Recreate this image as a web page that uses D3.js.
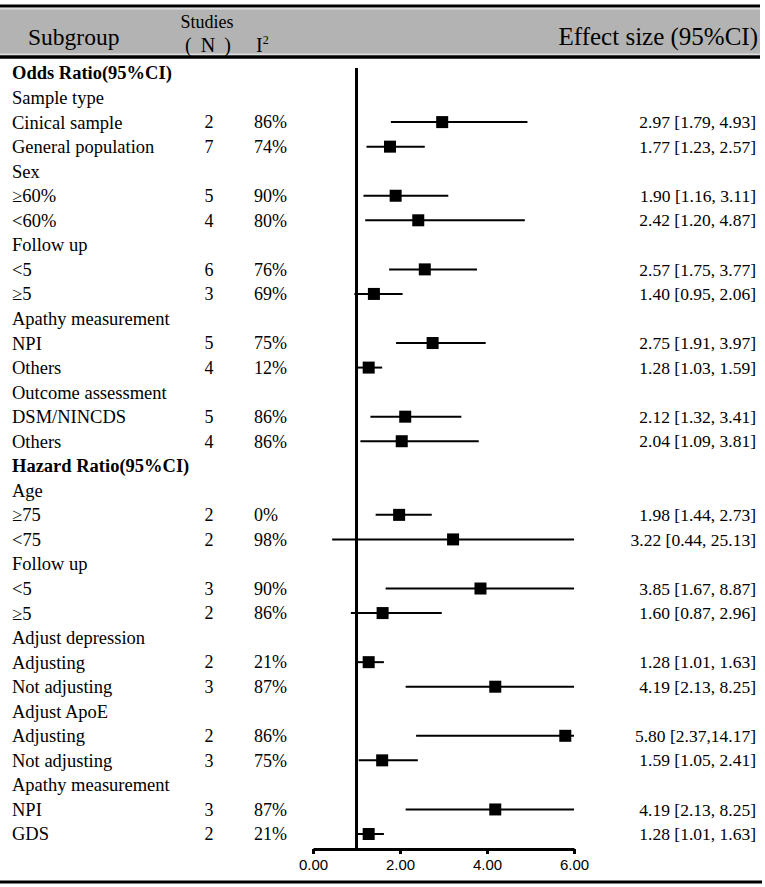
<!DOCTYPE html>
<html>
<head>
<meta charset="utf-8">
<script src="https://cdn.jsdelivr.net/npm/d3@7"></script>
<style>
  body { margin: 0; background: #fff; }
  svg { display: block; }
  text { font-family: "Liberation Serif", "Times New Roman", serif; fill: #000; }
</style>
</head>
<body>
<div id="chart"></div>
<script>
// row labels, top to bottom
const subgroups = [
  "Odds Ratio(95%CI)", "Sample type", "Cinical sample", "General population",
  "Sex", "\u226560%", "<60%", "Follow up", "<5", "\u22655",
  "Apathy measurement", "NPI", "Others", "Outcome assessment", "DSM/NINCDS", "Others",
  "Hazard Ratio(95%CI)", "Age", "\u226575", "<75", "Follow up", "<5", "\u22655",
  "Adjust depression", "Adjusting", "Not adjusting", "Adjust ApoE", "Adjusting", "Not adjusting",
  "Apathy measurement", "NPI", "GDS"
];
const boldRows = [0, 16];
const studies = [null, null, 2, 7, null, 5, 4, null, 6, 3, null, 5, 4, null, 5, 4,
  null, null, 2, 2, null, 3, 2, null, 2, 3, null, 2, 3, null, 3, 2];
const i2 = [null, null, "86%", "74%", null, "90%", "80%", null, "76%", "69%", null, "75%", "12%", null, "86%", "86%",
  null, null, "0%", "98%", null, "90%", "86%", null, "21%", "87%", null, "86%", "75%", null, "87%", "21%"];
const est = [null, null, 2.97, 1.77, null, 1.90, 2.42, null, 2.57, 1.40, null, 2.75, 1.28, null, 2.12, 2.04,
  null, null, 1.98, 3.22, null, 3.85, 1.60, null, 1.28, 4.19, null, 5.80, 1.59, null, 4.19, 1.28];
const lower = [null, null, 1.79, 1.23, null, 1.16, 1.20, null, 1.75, 0.95, null, 1.91, 1.03, null, 1.32, 1.09,
  null, null, 1.44, 0.44, null, 1.67, 0.87, null, 1.01, 2.13, null, 2.37, 1.05, null, 2.13, 1.01];
const upper = [null, null, 4.93, 2.57, null, 3.11, 4.87, null, 3.77, 2.06, null, 3.97, 1.59, null, 3.41, 3.81,
  null, null, 2.73, 25.13, null, 8.87, 2.96, null, 1.63, 8.25, null, 14.17, 2.41, null, 8.25, 1.63];
const effectLabels = [null, null, "2.97 [1.79, 4.93]", "1.77 [1.23, 2.57]", null, "1.90 [1.16, 3.11]", "2.42 [1.20, 4.87]",
  null, "2.57 [1.75, 3.77]", "1.40 [0.95, 2.06]", null, "2.75 [1.91, 3.97]", "1.28 [1.03, 1.59]",
  null, "2.12 [1.32, 3.41]", "2.04 [1.09, 3.81]", null, null, "1.98 [1.44, 2.73]", "3.22 [0.44, 25.13]",
  null, "3.85 [1.67, 8.87]", "1.60 [0.87, 2.96]", null, "1.28 [1.01, 1.63]", "4.19 [2.13, 8.25]",
  null, "5.80 [2.37,14.17]", "1.59 [1.05, 2.41]", null, "4.19 [2.13, 8.25]", "1.28 [1.01, 1.63]"];
const xTicks = [0, 2, 4, 6];

const width = 765, height = 887;
const rows = subgroups.map((label, i) => ({
  i, label, n: studies[i], i2: i2[i], est: est[i], lo: lower[i], hi: upper[i], text: effectLabels[i]
}));
const data = rows.filter(d => d.est != null);

const svg = d3.select("#chart").append("svg")
  .attr("width", width)
  .attr("height", height);

const x = d3.scaleLinear().domain([0, 6]).range([313, 574]);
const y = d3.scaleLinear().domain([0, subgroups.length - 1]).range([73, 834]);
const axisY = 849;

// header band
svg.append("rect").attr("x", 0).attr("y", 8).attr("width", 760).attr("height", 47).attr("fill", "#dcdcdc");
svg.append("rect").attr("x", 0).attr("y", 9.5).attr("width", 760).attr("height", 44).attr("fill", "#b3b3b3");
svg.append("line").attr("x1", 0).attr("x2", 760).attr("y1", 6).attr("y2", 6)
  .attr("stroke", "#000").attr("stroke-width", 3);
svg.append("line").attr("x1", 0).attr("x2", 760).attr("y1", 57).attr("y2", 57)
  .attr("stroke", "#000").attr("stroke-width", 3.5);

svg.append("text").attr("x", 28).attr("y", 45).style("font-size", "23.5px").text("Subgroup");
svg.append("text").attr("x", 207).attr("y", 28).attr("text-anchor", "middle").style("font-size", "18px").text("Studies");
const nHead = svg.append("text").attr("x", 208).attr("y", 52).attr("text-anchor", "middle").style("font-size", "20px");
nHead.append("tspan").text("(");
nHead.append("tspan").attr("dx", 9).text("N");
nHead.append("tspan").attr("dx", 9).text(")");
svg.append("text").attr("x", 256).attr("y", 52).style("font-size", "20px")
  .text("I").append("tspan").attr("dy", -8).style("font-size", "12px").text("2");
svg.append("text").attr("x", 758).attr("y", 45).attr("text-anchor", "end").style("font-size", "25px").text("Effect size (95%CI)");

// left table columns
svg.append("g").selectAll("text")
  .data(rows)
  .join("text")
  .attr("x", 12)
  .attr("y", d => y(d.i))
  .attr("dy", "0.35em")
  .style("font-size", "18.5px")
  .style("font-weight", d => boldRows.includes(d.i) ? "bold" : null)
  .text(d => d.label);

svg.append("g").selectAll("text")
  .data(data)
  .join("text")
  .attr("x", 209)
  .attr("y", d => y(d.i))
  .attr("dy", "0.35em")
  .attr("text-anchor", "middle")
  .style("font-size", "18px")
  .text(d => d.n);

svg.append("g").selectAll("text")
  .data(data)
  .join("text")
  .attr("x", 254)
  .attr("y", d => y(d.i))
  .attr("dy", "0.35em")
  .style("font-size", "18px")
  .text(d => d.i2);

svg.append("g").selectAll("text")
  .data(data)
  .join("text")
  .attr("x", 756)
  .attr("y", d => y(d.i))
  .attr("dy", "0.35em")
  .attr("text-anchor", "end")
  .style("font-size", "17.5px")
  .text(d => d.text);

// reference line at 1
svg.append("line")
  .attr("x1", x(1)).attr("x2", x(1))
  .attr("y1", 68).attr("y2", axisY)
  .attr("stroke", "#000").attr("stroke-width", 3);

// confidence intervals, clipped at the axis end
svg.append("g").selectAll("line")
  .data(data)
  .join("line")
  .attr("x1", d => x(Math.max(0, d.lo)))
  .attr("x2", d => x(Math.min(6, d.hi)))
  .attr("y1", d => y(d.i))
  .attr("y2", d => y(d.i))
  .attr("stroke", "#000")
  .attr("stroke-width", 2);

const sq = 12;
svg.append("g").selectAll("rect")
  .data(data)
  .join("rect")
  .attr("x", d => x(d.est) - sq / 2)
  .attr("y", d => y(d.i) - sq / 2)
  .attr("width", sq)
  .attr("height", sq)
  .attr("fill", "#000");

// x axis
const axis = svg.append("g")
  .attr("transform", `translate(0,${axisY})`)
  .call(d3.axisBottom(x).tickValues(xTicks).tickFormat(d3.format(".2f")).tickSize(5).tickSizeOuter(0));
axis.select(".domain").attr("stroke-width", 3);
axis.selectAll(".tick line").attr("stroke-width", 3);
axis.selectAll(".tick text")
  .style("font-family", "'Liberation Sans', Arial, sans-serif")
  .style("font-size", "15px")
  .attr("y", 10);

// bottom rule
svg.append("line").attr("x1", 0).attr("x2", 762).attr("y1", 882).attr("y2", 882)
  .attr("stroke", "#000").attr("stroke-width", 3);
</script>
</body>
</html>
